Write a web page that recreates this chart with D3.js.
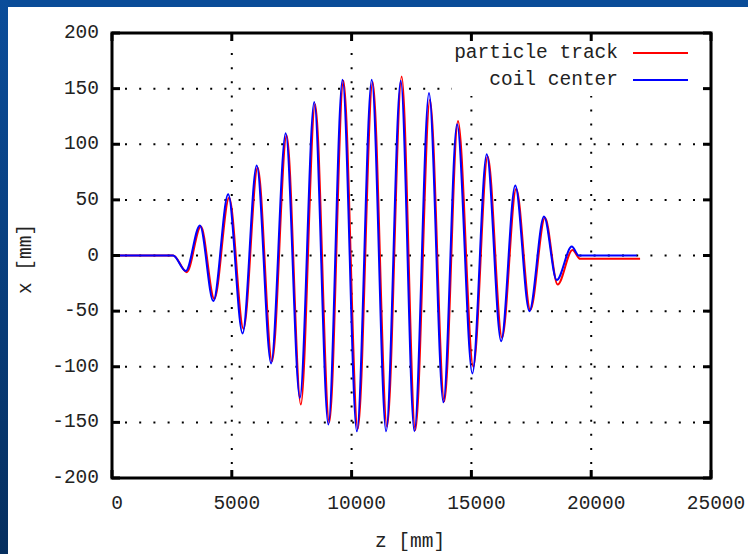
<!DOCTYPE html>
<html>
<head>
<meta charset="utf-8">
<script src="https://cdn.jsdelivr.net/npm/d3@7/dist/d3.min.js"></script>
<style>
html,body{margin:0;padding:0;background:#fff;}
svg{display:block;}
</style>
</head>
<body>
<svg id="chart" width="748" height="554"></svg>
<script>
// ---- data ----
const xTicks = [0, 5000, 10000, 15000, 20000, 25000];
const yTicks = [-200, -150, -100, -50, 0, 50, 100, 150, 200];
const xTickLabels = ["0", "5000", "10000", "15000", "20000", "25000"];
const yTickLabels = ["-200", "-150", "-100", "-50", "0", "50", "100", "150", "200"];
const seriesNames = ["particle track", "coil center"];

const zCoil = [0, 2550, 3080, 3670, 4230, 4850, 5450, 6040, 6640, 7250, 7840, 8440, 9030, 9620, 10220, 10840, 11440, 12050, 12620, 13230, 13830, 14400, 15040, 15640, 16240, 16830, 17420, 18030, 18560, 19190, 19480, 21900];
const xCoil = [0, 0, -14, 27, -41, 55, -70, 81, -97, 110, -128, 138, -152, 158, -158, 158, -158, 157, -158, 146, -132, 118, -106, 91, -77, 63, -50, 35, -22, 8, 0, 0];

const zTrack = [0, 2560, 3120, 3710, 4270, 4890, 5490, 6080, 6680, 7290, 7880, 8480, 9070, 9660, 10260, 10880, 11480, 12090, 12660, 13270, 13870, 14440, 15080, 15680, 16280, 16870, 17460, 18070, 18600, 19220, 19540, 22040];
const xTrack = [0, 0, -15, 26, -39, 52, -66, 79, -95, 108, -134, 136, -150, 157, -156, 156, -154, 161, -157, 140, -131, 121, -100, 89, -74, 60, -49, 34, -26, 5, -3, -3];

// ---- layout ----
const W = 748, H = 554;
const plot = {left: 112, right: 711, top: 33, bottom: 478};
const svg = d3.select("#chart");
const font = "'Liberation Mono', 'DejaVu Sans Mono', monospace";

// background (slide template)
const defs = svg.append("defs");
const g1 = defs.append("linearGradient").attr("id", "leftGrad")
  .attr("x1", 0).attr("y1", 0).attr("x2", 0).attr("y2", 1);
g1.append("stop").attr("offset", "0%").attr("stop-color", "#0b4d9a");
g1.append("stop").attr("offset", "100%").attr("stop-color", "#062f5f");
svg.append("rect").attr("x", 0).attr("y", 0).attr("width", W).attr("height", H).attr("fill", "#ffffff");
svg.append("rect").attr("x", 0).attr("y", 0).attr("width", W).attr("height", 7).attr("fill", "#0a4c98");
svg.append("rect").attr("x", 0).attr("y", 0).attr("width", 8).attr("height", H).attr("fill", "url(#leftGrad)");

const x = d3.scaleLinear().domain([0, 25000]).range([plot.left, plot.right]);
const y = d3.scaleLinear().domain([-200, 200]).range([plot.bottom, plot.top]);

// grid (dotted)
const grid = svg.append("g");
xTicks.filter(t => t > 0 && t < 25000).forEach(t => {
  grid.append("line")
    .attr("x1", x(t)).attr("x2", x(t))
    .attr("y1", plot.bottom - 14).attr("y2", plot.top)
    .attr("stroke", "#000").attr("stroke-width", 2)
    .attr("stroke-dasharray", "2,12.1");
});
yTicks.filter(t => t > -200 && t < 200).forEach(t => {
  grid.append("line")
    .attr("x1", plot.left + 13).attr("x2", plot.right)
    .attr("y1", y(t)).attr("y2", y(t))
    .attr("stroke", "#000").attr("stroke-width", 2)
    .attr("stroke-dasharray", "2,12.2");
});
// legend area hides grid
svg.append("rect").attr("x", 452).attr("y", plot.top + 2)
  .attr("width", plot.right - 452 - 2).attr("height", 61).attr("fill", "#fff");

// curves
const line = d3.line().curve(d3.curveMonotoneX);
const trackPts = zTrack.map((z, i) => [x(z), y(xTrack[i])]);
const coilPts = zCoil.map((z, i) => [x(z), y(xCoil[i])]);
svg.append("path").attr("d", line(trackPts)).attr("fill", "none")
  .attr("stroke", "#ff0000").attr("stroke-width", 2);
svg.append("path").attr("d", line(coilPts)).attr("fill", "none")
  .attr("stroke", "#0000ff").attr("stroke-width", 2);

// axes: gnuplot-style ticks (inward, on all four sides)
const axisG = svg.append("g");
const tickLen = 8;
xTicks.forEach(t => {
  axisG.append("line").attr("x1", x(t)).attr("x2", x(t))
    .attr("y1", plot.bottom).attr("y2", plot.bottom - tickLen)
    .attr("stroke", "#000").attr("stroke-width", 3);
  axisG.append("line").attr("x1", x(t)).attr("x2", x(t))
    .attr("y1", plot.top).attr("y2", plot.top + tickLen)
    .attr("stroke", "#000").attr("stroke-width", 3);
});
yTicks.forEach(t => {
  axisG.append("line").attr("x1", plot.left).attr("x2", plot.left + tickLen)
    .attr("y1", y(t)).attr("y2", y(t))
    .attr("stroke", "#000").attr("stroke-width", 3);
  axisG.append("line").attr("x1", plot.right).attr("x2", plot.right - tickLen)
    .attr("y1", y(t)).attr("y2", y(t))
    .attr("stroke", "#000").attr("stroke-width", 3);
});
// border
axisG.append("rect").attr("x", plot.left).attr("y", plot.top)
  .attr("width", plot.right - plot.left).attr("height", plot.bottom - plot.top)
  .attr("fill", "none").attr("stroke", "#000").attr("stroke-width", 3);

// tick labels
const fs = 19.5;
xTicks.forEach((t, i) => {
  svg.append("text").attr("x", x(t) + 5).attr("y", 504)
    .attr("text-anchor", "middle").attr("dominant-baseline", "central")
    .attr("font-family", font).attr("font-size", fs).attr("fill", "#222")
    .text(xTickLabels[i]);
});
yTicks.forEach((t, i) => {
  svg.append("text").attr("x", 99).attr("y", y(t))
    .attr("text-anchor", "end").attr("dominant-baseline", "central")
    .attr("font-family", font).attr("font-size", fs).attr("fill", "#222")
    .text(yTickLabels[i]);
});

// axis titles
svg.append("text").attr("x", 410).attr("y", 542)
  .attr("text-anchor", "middle").attr("dominant-baseline", "central")
  .attr("font-family", font).attr("font-size", fs).attr("fill", "#222")
  .text("z [mm]");
svg.append("text").attr("transform", "translate(26,259) rotate(-90)")
  .attr("text-anchor", "middle").attr("dominant-baseline", "central")
  .attr("font-family", font).attr("font-size", fs).attr("fill", "#222")
  .text("x [mm]");

// legend
const legColors = ["#ff0000", "#0000ff"];
const legY = [53, 80];
seriesNames.forEach((name, i) => {
  svg.append("text").attr("x", 618).attr("y", legY[i])
    .attr("text-anchor", "end").attr("dominant-baseline", "central")
    .attr("font-family", font).attr("font-size", fs).attr("fill", "#222")
    .text(name);
  svg.append("line").attr("x1", 633).attr("x2", 688)
    .attr("y1", legY[i]).attr("y2", legY[i])
    .attr("stroke", legColors[i]).attr("stroke-width", 2);
});
</script>
</body>
</html>
